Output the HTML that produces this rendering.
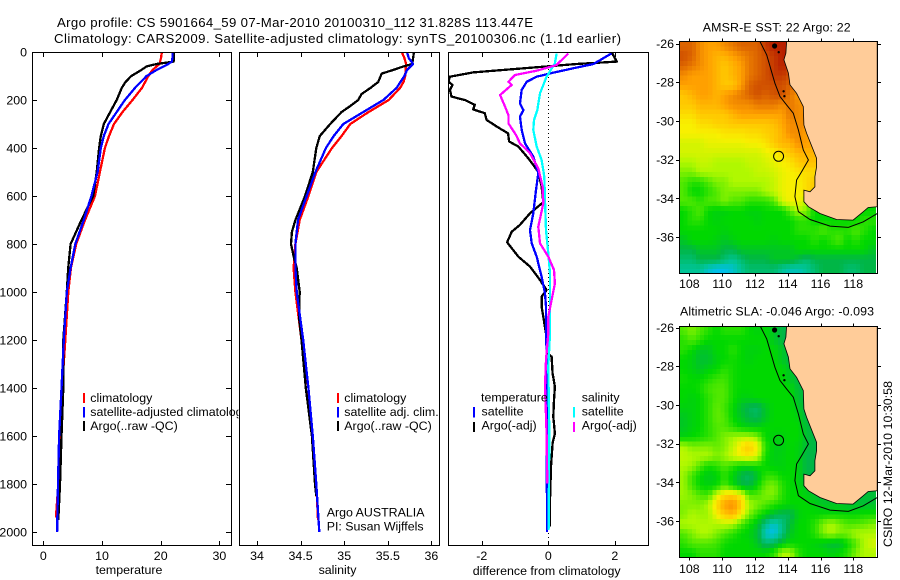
<!DOCTYPE html>
<html lang="en">
<head>
<meta charset="utf-8">
<title>Argo profile</title>
<style>
html,body{margin:0;padding:0;background:#fff;}
svg{display:block;font-family:"Liberation Sans",sans-serif;font-size:12.4px;fill:#000;}
.line{fill:none;stroke-width:2.3;shape-rendering:crispEdges;stroke-linejoin:round;}
.frame{fill:none;stroke:#000;stroke-width:1;shape-rendering:crispEdges;}
.tick{stroke:#000;stroke-width:1;shape-rendering:crispEdges;}
</style>
</head>
<body>
<svg id="chart" xmlns="http://www.w3.org/2000/svg" width="900" height="580" viewBox="0 0 900 580">
  <defs>
    <clipPath id="clip-temp"><rect x="33" y="53" width="198" height="492"/></clipPath>
    <clipPath id="clip-sal"><rect x="240" y="53" width="199" height="492"/></clipPath>
    <clipPath id="clip-diff"><rect x="449" y="53" width="199" height="492"/></clipPath>
    <clipPath id="clip-map1"><rect x="680" y="42" width="197" height="231"/></clipPath>
    <clipPath id="clip-map2"><rect x="680" y="327" width="197" height="230"/></clipPath>
    <clipPath id="clip-cells1"><rect x="680" y="42" width="196" height="231"/></clipPath>
    <clipPath id="clip-cells2"><rect x="680" y="327" width="196" height="230"/></clipPath>
  </defs>
  <rect width="900" height="580" fill="#fff"/>
  <text x="57" y="27" font-size="13.2" textLength="476" lengthAdjust="spacing">Argo profile: CS 5901664_59 07-Mar-2010 20100310_112 31.828S 113.447E</text>
  <text x="54" y="43" font-size="13.2" textLength="567" lengthAdjust="spacing">Climatology: CARS2009. Satellite-adjusted climatology: synTS_20100306.nc (1.1d earlier)</text>

  <g id="temp-panel"></g>
  <g>
    <rect x="83" y="393" width="2" height="10" fill="#f00"/>
    <rect x="83" y="407" width="2" height="10.5" fill="#00f"/>
    <rect x="83" y="421" width="2" height="10" fill="#000"/>
    <text x="90.3" y="402">climatology</text>
    <text x="90.3" y="416">satellite-adjusted climatology</text>
    <text x="90.3" y="430">Argo(..raw -QC)</text>
  </g>

  <rect x="238.5" y="50" width="205" height="497" fill="#fff"/>
  <g id="sal-panel"></g>
  <g>
    <rect x="337" y="393" width="2" height="10" fill="#f00"/>
    <rect x="337" y="407" width="2" height="10.5" fill="#00f"/>
    <rect x="337" y="421" width="2" height="10" fill="#000"/>
    <text x="344.3" y="402">climatology</text>
    <text x="344.3" y="416">satellite adj. clim.</text>
    <text x="344.3" y="430">Argo(..raw -QC)</text>
    <text x="326.7" y="516.7">Argo AUSTRALIA</text>
    <text x="326.7" y="530.7">PI: Susan Wijffels</text>
  </g>

  <g id="diff-panel"></g>
  <g>
    <text x="481" y="401.7">temperature</text>
    <rect x="473" y="407" width="2" height="10.5" fill="#00f"/>
    <text x="481.5" y="415.7">satellite</text>
    <rect x="473" y="422" width="2" height="10" fill="#000"/>
    <text x="481.5" y="429.7">Argo(-adj)</text>
    <text x="581.7" y="401.7">salinity</text>
    <rect x="573" y="407" width="2" height="10.5" fill="#0ff"/>
    <text x="581.7" y="415.7">satellite</text>
    <rect x="573" y="422" width="2" height="10" fill="#f0f"/>
    <text x="581.7" y="429.7">Argo(-adj)</text>
  </g>

  <g id="map1"></g>
  <g id="map2"></g>
  <text x="702.7" y="31.7" textLength="148" lengthAdjust="spacing">AMSR-E SST: 22 Argo: 22</text>
  <text x="680" y="315.7" textLength="194" lengthAdjust="spacing">Altimetric SLA: -0.046 Argo: -0.093</text>
  <text transform="translate(892,547) rotate(-90)" textLength="166" lengthAdjust="spacing">CSIRO 12-Mar-2010 10:30:58</text>
</svg>
<script>
// ---- profile data ----
const depthTicks = [0,200,400,600,800,1000,1200,1400,1600,1800,2000];
const tempTicks = [0,10,20,30];
const salTicks = [34,34.5,35,35.5,36];
const salTickLabels = ['34','34.5','35','35.5','36'];
const diffTicks = [-2,0,2];

const climTempDepth = [0,25,50,75,100,150,200,250,300,350,400,500,600,700,800,900,1000,1200,1400,1600,1800,1940];
const climTempValue = [20.2,20.05,19.8,18.6,17.9,16.8,15.2,13.5,12.05,11.2,10.5,9.65,8.8,7.1,5.6,4.7,4.26,3.75,3.2,2.85,2.55,2.15];
const satTempDepth = [0,25,40,50,75,100,150,200,250,300,350,400,500,600,700,800,900,1000,1200,1400,1600,1800,2000];
const satTempValue = [22,22,21.9,21.3,19.3,17.6,15.6,13.9,12.5,11.1,10.3,9.8,9.25,8.2,6.9,5.45,4.65,4,3.5,3.1,2.7,2.5,2.35];
const argoTempDepth = [0,25,40,50,60,75,100,125,150,200,250,300,350,400,500,600,700,800,900,1000,1200,1400,1600,1800,1950];
const argoTempValue = [22.2,22.2,22.2,19.3,17.6,16.7,15,14,13.35,12.5,11.4,10.3,9.8,9.5,9.1,8.5,6.5,4.65,4.25,4,3.4,3.4,3.1,2.85,2.55];

const climSalDepth = [0,25,50,100,125,150,200,250,300,350,400,500,600,700,800,900,1000,1200,1400,1600,1800,1950];
const climSalValue = [35.66,35.69,35.71,35.7,35.68,35.64,35.51,35.28,35.07,34.97,34.86,34.68,34.59,34.49,34.44,34.42,34.44,34.51,34.59,34.63,34.68,34.7];
const satSalDepth = [0,25,50,75,100,150,200,250,300,350,400,500,600,700,800,900,1000,1200,1400,1600,1800,2000];
const satSalValue = [35.72,35.74,35.79,35.72,35.69,35.6,35.45,35.22,34.99,34.88,34.79,34.67,34.57,34.47,34.44,34.44,34.455,34.53,34.59,34.64,34.68,34.715];
const argoSalDepth = [0,25,50,60,75,90,125,150,175,200,225,250,300,350,400,500,600,700,750,800,850,900,1000,1100,1200,1400,1600,1800,1850];
const argoSalValue = [35.8,35.79,35.78,35.68,35.56,35.43,35.39,35.3,35.2,35.16,35.07,34.97,34.84,34.72,34.68,34.64,34.55,34.44,34.4,34.39,34.42,34.455,34.49,34.48,34.51,34.56,34.63,34.665,34.68];

const argoTempDiffDepth = [0,40,50,85,103,124,137,158,186,200,220,239,255,283,314,339,373,394,443,499,560,626,672,720,749,793,853,894,950,992,1019,1061,1172,1256,1269,1339,1394,1450,1519,1589,1630,1728,1867,1978];
const argoTempDiffValue = [1.9,2.06,0.85,-2.26,-2.96,-3,-2.88,-2.96,-2.91,-2.51,-2.21,-2.26,-1.91,-1.86,-1.51,-1.21,-1.18,-0.9,-0.6,-0.3,-0.2,-0.15,-0.55,-0.85,-1.1,-1.24,-0.9,-0.55,-0.25,-0.05,-0.2,-0.2,-0.07,-0.03,0.1,0.13,0.2,0.17,0.15,0.2,0.13,0.08,0.05,0.05];
const satTempDiffDepth = [6,50,68,89,103,124,158,214,242,269,325,381,436,506,575,672,742,797,853,936,1006,1061,1300,2000];
const satTempDiffValue = [1.9,1.36,0.75,0.05,-0.35,-0.65,-0.8,-0.85,-0.75,-0.85,-0.8,-0.7,-0.45,-0.3,-0.37,-0.45,-0.55,-0.5,-0.35,-0.2,-0.1,-0.07,-0.05,-0.04];
const satSalDiffDepth = [6,47,103,172,242,283,325,394,450,519,617,742,839,922,1061,1172,1311,1589,1992];
const satSalDiffValue = [0.25,0.2,-0.05,-0.25,-0.33,-0.43,-0.45,-0.35,-0.2,-0.12,-0.1,-0.07,0,0.05,0.05,0.05,0,0.03,0.01];
const argoSalDiffDepth = [6,54,78,96,124,137,179,228,263,297,346,381,422,485,561,631,728,797,853,908,964,1033,1103,1172,1283,1394,1589,1797];
const argoSalDiffValue = [0.6,0.25,-0.35,-1,-1.2,-1.1,-1.45,-1.3,-1.2,-1.2,-0.97,-0.85,-0.55,-0.3,-0.17,-0.15,-0.3,-0.25,0,0.17,0.2,0.1,0,0,-0.07,-0.1,-0.05,-0.03];

// ---- map data (colour level per half-degree sample, north to south) ----
const lonTicks = [108,110,112,114,116,118];
const latTicks = [26,28,30,32,34,36];
const sstGrid = [
[9.5,9.5,8.5,8,8,8.5,9,9.5,9.5,9.5,10.5,11,11],
[10,9.5,8.5,8,7.5,7.5,8,8.5,9,9.5,10,10.5,11,11],
[9.5,9,8.5,8,7.5,7,7.5,8,9,9.5,10,10.5,11,10.5],
[8.5,8,8,8,7.5,7,7.5,8,9,9.5,10,10.5,10.5,10],
[8,8,8,8,7.5,7,7,8,9.5,10,10,10,10,9.5],
[7,7.5,8,8,7.5,8,8.5,9,9.5,10,9.5,10,10,9,8],
[7,7,7.5,7.5,7.5,8,8.5,8.5,8.5,9,9,9,8.5,9,8.5],
[6.5,6.5,7,7,7,7,7.5,8,8,8,8,8,8,9,8.5],
[6,6,6.5,6.5,6.8,6.8,7,7,7,7,7,7.2,7.8,8.5,8.5],
[6,6,6,6,6,6.3,6.3,6.3,6.5,6.5,6.8,7,7.5,8.5,8.5,8],
[5.5,5.5,5.5,5.8,5.8,5.8,5.8,5.8,6,6,6.3,7,7.5,7.5,8.5,8],
[5.5,5.5,5.5,5.5,5.5,5.5,5.5,5.5,5.5,5.5,5.8,6,6.5,7,7.5,7.5],
[5,5,5.3,5.3,5,5,5,5,5.3,5.3,5.5,5.8,6,6.3,7,7.2,7.2],
[4.5,4.5,5,5,5,5,5,5,5,5.3,5.3,5.5,5.8,6,6.3,6.5,6.5],
[4,3.5,3.5,4,4.5,4.5,5,5,5,5,5,5.3,5.8,6,6,6.5,7],
[4,3,3,3.5,4,4.5,4.5,4.5,4.5,4.5,5,5.3,5.8,6,6,6.5,7],
[4,4,3.5,4,4,4.5,4,4,3.5,3.5,3.5,4,5.5,6,6,5,3],
[3,3.5,4,3,2.8,2.8,3,3,2.8,2.8,3,3,3,4,5,4.5,3,3,3,3,3,3,3,3],
[3,3.5,3.5,3,2.8,3,3,3,3,2.8,3,3,3,3,3.5,3.5,3,3,3,3,3,3,3.5,3.5],
[3,3,3,3,3,2.8,3,3,3,3,3,3,3,3,3.5,3.5,3.5,4,3.5,3.5,3.5,4,3.5,3],
[2.5,3,3,3,2.8,2.5,2.8,3,3,3,3,2.8,3,3,3,3,3.5,3,3.5,4,3,3.5,3,3],
[2,2,2.5,2.5,2.5,2,2,2.5,2.5,2.5,2.5,2.5,2.5,2.5,3,3,3,3,3,3,3,3,3,2.5],
[1.5,1.5,2,2,2,1.5,1,1.5,2,2,2,2.5,2.5,2.5,2,1.5,2,2,2,2,2,2,2,2],
[1,1,1,0.5,0.2,0.2,0.5,1,1.5,1.5,1.5,1.5,1,0.7,0.7,1,1.5,2,2,2,1.5,1.5,2,2]
];
const slaGrid = [
[4,4.5,4,3.5,3,3.5,3.5,3.5,3,2.8,3,2.5,2,2],
[3.5,4,3.5,3,3,3,3,3,3,3,3,2.5,2,2],
[3.5,3,2.5,2.5,3,3,3.5,3,2.8,2.8,3,3,2.5,2,2],
[3,2.8,2.3,2.3,2.8,3,3.2,3,2.8,3,3,3,2.5,2],
[3,2.8,2.5,2.8,3,3.5,3.2,3,3,3,3,3,3,2.5,2],
[3.2,3,3,3.3,3.7,3.8,3.2,3,3,3,3,3,3,2.5,2],
[3,3,3.2,3.8,4,4,3.2,3,3,3,3,3,3,3,2.2,2],
[3,2.8,3,3.5,4,4,3.2,2.8,2.8,3,3,3,3,3,2.3,2],
[2.8,2.8,3,3.5,4.2,3.8,3,2.3,1.8,1.6,2.5,3,3,3,2.5,2],
[2.5,2.8,3,3.5,4.2,4,3,2.5,2,1.8,2.5,3,3,3,2.8,2],
[2.5,2.8,3,3.5,4,4,3.5,3,2.8,2.8,3,3,3,3,3,2.2,2],
[2.8,3,3.2,3.5,4,4.5,4.8,5,5,4.5,3,2.8,2.8,3,3,2.3,2,2],
[5,4.5,4.5,4.5,4.2,4.5,5.2,6.3,7,6,3.5,2.7,2.7,3,2.8,2.2,2,2],
[5.2,5,5,5,4.5,4.8,5.5,6,6.3,5.5,3.2,2.7,2.8,3,2.8,2,2,2],
[5,4.8,4,3.2,3.5,4,3.5,3,3,3.2,3,2.8,2.8,3,2.8,2,2,2],
[4.8,3.8,3,2.6,2.8,3.5,2.8,2,1.6,2.4,3.5,3.5,3,3,2.8,2,2],
[4.8,3.8,3,2.8,3,4,3,2.2,2,3,4.2,4.5,3.5,3,2.8,2.4,2.2],
[4.8,4.5,4,3.8,5.5,6.5,6.8,6,4,4,4.5,4.5,3.5,3,3,2.8,2.3,2.2,2.2,2.2,2.2,2.2,2.2,2.2],
[4.5,4.5,4.5,5,6.5,8,8.5,7,5,4.5,4,3.5,3.2,3,3,3,2.8,2.5,2.5,2.5,2.3,2.3,2.3,2.3],
[4.5,5,4.8,4.8,6,7,7.5,6,4.5,3.5,2.8,2.2,1.8,1.8,2.8,3,3,3,3,3,3,3,3.2,3.2],
[5,5,5,5,5,5.2,5,4,3.2,2.5,1.2,0.5,1.2,2.2,3,3,3.5,4.5,5,4.5,4,4,4.2,4.5],
[4,4.5,5,5,4.5,4,3.5,3,2.8,2.2,0.5,0.2,1.2,2.5,3,3,3.5,4.5,5,4.5,4.5,5,5,5],
[3.5,4,4,4,3.8,3.2,3,3,3,2.5,1.5,1.8,2.5,3,3,3,2.8,2.5,2.2,2.2,3,4,5,5.5],
[3,3,3.5,3.5,3.5,3,3,3,3,3,3,3.5,5,5,3.5,3,3,3,2.8,3,3.5,4.5,5,5]
];
const coastLon = [113.93,113.89,113.77,114.04,114.14,114.54,114.95,114.99,115.15,115.76,115.76,115.66,115.66,115.36,114.99,114.99,115.26,115.97,116.98,117.99,118.61,118.91,119.46,119.46];
const coastLat = [25.9,26.5,26.84,27.53,28.14,28.57,29.26,30.21,30.64,31.93,32.36,32.88,33.4,33.66,33.57,34.17,34.43,34.78,35.09,35.12,34.69,34.47,34.43,25.9];
const contourLon = [112.31,112.72,113.22,113.53,113.93,114.34,114.65,114.95,115.26,114.85,114.54,114.44,114.65,115.36,116.58,117.7,118.61,119.46];
const contourLat = [25.9,26.59,28.05,28.74,29.17,29.6,30.47,31.5,32.02,32.62,33.05,33.91,34.69,35.09,35.43,35.5,35.21,34.78];
const islandLon = [113.2,113.45,113.75,113.8];
const islandLat = [26.13,26.45,28.47,28.72];
const floatLon = 113.447;
const floatLat = 31.828;

// ---- axis functions ----
const NS = 'http://www.w3.org/2000/svg';
const yDepth = d => 52 + 0.24 * d;
const xTemp = t => 43.3 + 5.87 * t;
const xSal = s => 257 + 87.2 * (s - 34);
const xDiff = v => 548.3 + 33.25 * v;
const xLon = lon => 689.3 + 16.4 * (lon - 108);

function make(parent, tag) {
  const el = document.createElementNS(NS, tag);
  parent.appendChild(el);
  return el;
}
function tick(parent, x1, y1, x2, y2) {
  const t = make(parent, 'line');
  t.setAttribute('class', 'tick');
  t.setAttribute('x1', x1);
  t.setAttribute('y1', y1);
  t.setAttribute('x2', x2);
  t.setAttribute('y2', y2);
  
  
}
function label(parent, str, x, y, anchor) {
  const t = make(parent, 'text');
  t.textContent = str;
  t.setAttribute('x', x);
  t.setAttribute('y', y);
  t.setAttribute('text-anchor', anchor);
  
  
}
function series(parent, seriesName, clip, color, depths, values, xFn) {
  const p = make(parent, 'polyline');
  p.setAttribute('class', 'line');
  p.setAttribute('stroke', color);
  p.setAttribute('clip-path', 'url(#' + clip + ')');
  p.setAttribute('points', depths.map((d, i) => xFn(values[i]).toFixed(1) + ',' + yDepth(d).toFixed(1)).join(' '));
  
  
}
function panel(parent, left, right, ticks, labels, xFn, axisTitle, titleX, titleY, labelY) {
  const f = make(parent, 'rect');
  f.setAttribute('class', 'frame');
  f.setAttribute('x', left);
  f.setAttribute('y', 52.5);
  f.setAttribute('width', right - left);
  f.setAttribute('height', 493);
  
  
  ticks.forEach((v, i) => {
    const x = Math.round(xFn(v)) + 0.5;
    tick(parent, x, 52, x, 57);
    tick(parent, x, 541, x, 546);
    label(parent, labels[i], xFn(v), labelY, 'middle');
  });
  const t = make(parent, 'text');
  t.textContent = axisTitle;
  t.setAttribute('x', titleX);
  t.setAttribute('y', titleY);
  t.setAttribute('text-anchor', 'middle');
  
  
}

// ---- temperature panel ----
const gT = document.getElementById('temp-panel');
panel(gT, 32.5, 231.5, tempTicks, tempTicks.map(String), xTemp, 'temperature', 129, 574, 560);
depthTicks.forEach(d => {
  const y = Math.round(yDepth(d)) + 0.5;
  tick(gT, 32, y, 37, y);
  tick(gT, 226, y, 231, y);
  label(gT, String(d), 27, yDepth(d) + 4.5, 'end');
});
series(gT, 'series-temp-climatology', 'clip-temp', '#f00', climTempDepth, climTempValue, xTemp);
series(gT, 'series-temp-argo', 'clip-temp', '#000', argoTempDepth, argoTempValue, xTemp);
series(gT, 'series-temp-satellite', 'clip-temp', '#00f', satTempDepth, satTempValue, xTemp);

// ---- salinity panel ----
const gS = document.getElementById('sal-panel');
panel(gS, 239.5, 439.5, salTicks, salTickLabels, xSal, 'salinity', 337.5, 574, 560);
series(gS, 'series-sal-climatology', 'clip-sal', '#f00', climSalDepth, climSalValue, xSal);
series(gS, 'series-sal-argo', 'clip-sal', '#000', argoSalDepth, argoSalValue, xSal);
series(gS, 'series-sal-satellite', 'clip-sal', '#00f', satSalDepth, satSalValue, xSal);

// ---- difference panel ----
const gD = document.getElementById('diff-panel');
panel(gD, 448.5, 648.5, diffTicks, diffTicks.map(String), xDiff, 'difference from climatology', 546.7, 575, 560);
const zeroLine = make(gD, 'line');
zeroLine.setAttribute('x1', 548.5);
zeroLine.setAttribute('x2', 548.5);
zeroLine.setAttribute('y1', 53);
zeroLine.setAttribute('y2', 545);
zeroLine.setAttribute('stroke', '#000');
zeroLine.setAttribute('stroke-dasharray', '1 3');


series(gD, 'series-diff-temp-argo', 'clip-diff', '#000', argoTempDiffDepth, argoTempDiffValue, xDiff);
series(gD, 'series-diff-temp-satellite', 'clip-diff', '#00f', satTempDiffDepth, satTempDiffValue, xDiff);
series(gD, 'series-diff-sal-satellite', 'clip-diff', '#0ff', satSalDiffDepth, satSalDiffValue, xDiff);
series(gD, 'series-diff-sal-argo', 'clip-diff', '#f0f', argoSalDiffDepth, argoSalDiffValue, xDiff);

// ---- colour scale ----
const levelColors = [[0,190,255],[0,196,150],[0,182,70],[0,216,0],[80,232,0],[176,248,0],[248,240,0],[255,200,0],[255,160,0],[232,120,0],[208,80,0],[184,32,0]];
function levelColor(v) {
  const a = Math.max(0, Math.min(11, v));
  const i = Math.min(10, Math.floor(a));
  const f = a - i;
  const c = levelColors[i].map((k, n) => Math.round(k + (levelColors[i + 1][n] - k) * f));
  return 'rgb(' + c.join(',') + ')';
}
// Quarter-degree display cells resampled from the half-degree grid
function gridValue(grid, r, c) {
  const row = grid[Math.max(0, Math.min(grid.length - 1, r))];
  const k = Math.max(0, c);
  return k < row.length ? row[k] : row[row.length - 1];
}
function displayValue(grid, r4, c4) {
  const u = (r4 + 0.5) / 2 - 0.5;
  const v = (c4 + 0.5) / 2 - 0.5;
  const r0 = Math.floor(u);
  const c0 = Math.floor(v);
  const fu = u - r0;
  const fv = v - c0;
  return (1 - fu) * ((1 - fv) * gridValue(grid, r0, c0) + fv * gridValue(grid, r0, c0 + 1)) +
         fu * ((1 - fv) * gridValue(grid, r0 + 1, c0) + fv * gridValue(grid, r0 + 1, c0 + 1));
}

// ---- maps ----
function drawMap(gId, grid, clip, cellClip, top, bottom, y26, labelY, circleName) {
  const g = document.getElementById(gId);
  const yLat = lat => y26 + 19.36 * (lat - 26);
  const cells = make(g, 'g');
  cells.setAttribute('clip-path', 'url(#' + cellClip + ')');
  cells.setAttribute('shape-rendering', 'crispEdges');
  
  
  for (let r = 0; r < grid.length * 2; r++) {
    for (let c = 0; c < 48; c++) {
      const cell = make(cells, 'rect');
      const lon0 = 107.4 + 0.25 * c;
      const lat0 = 25.9 + 0.25 * r;
      cell.setAttribute('x', xLon(lon0).toFixed(1));
      cell.setAttribute('y', yLat(lat0).toFixed(1));
      cell.setAttribute('width', (xLon(lon0 + 0.25) - xLon(lon0) + 0.6).toFixed(1));
      cell.setAttribute('height', (yLat(lat0 + 0.25) - yLat(lat0) + 0.6).toFixed(1));
      cell.setAttribute('fill', levelColor(displayValue(grid, r, c)));
      
      
    }
  }
  const land = make(g, 'polygon');
  land.setAttribute('points', coastLon.map((lon, i) => xLon(lon).toFixed(1) + ',' + yLat(coastLat[i]).toFixed(1)).join(' '));
  land.setAttribute('fill', '#ffcc99');
  land.setAttribute('stroke', '#000');
  land.setAttribute('stroke-width', '0.8');
  land.setAttribute('clip-path', 'url(#' + clip + ')');
  
  
  const contour = make(g, 'polyline');
  contour.setAttribute('points', contourLon.map((lon, i) => xLon(lon).toFixed(1) + ',' + yLat(contourLat[i]).toFixed(1)).join(' '));
  contour.setAttribute('fill', 'none');
  contour.setAttribute('stroke', '#000');
  contour.setAttribute('stroke-width', '1');
  contour.setAttribute('clip-path', 'url(#' + clip + ')');
  
  
  islandLon.forEach((lon, i) => {
    const isl = make(g, 'circle');
    isl.setAttribute('cx', xLon(lon).toFixed(1));
    isl.setAttribute('cy', yLat(islandLat[i]).toFixed(1));
    isl.setAttribute('r', i === 0 ? 2.6 : 1.2);
    isl.setAttribute('fill', '#000');
    
    
  });
  const marker = make(g, 'circle');
  marker.setAttribute('cx', xLon(floatLon).toFixed(1));
  marker.setAttribute('cy', yLat(floatLat).toFixed(1));
  marker.setAttribute('r', 5);
  marker.setAttribute('fill', 'none');
  marker.setAttribute('stroke', '#000');
  
  
  const frame = make(g, 'rect');
  frame.setAttribute('class', 'frame');
  frame.setAttribute('x', 679.5);
  frame.setAttribute('y', top);
  frame.setAttribute('width', 198);
  frame.setAttribute('height', bottom - top);
  
  
  lonTicks.forEach(lon => {
    const x = Math.round(xLon(lon)) + 0.5;
    tick(g, x, top - 3, x, top);
    tick(g, x, bottom, x, bottom + 3);
    label(g, String(lon), xLon(lon), labelY, 'middle');
  });
  latTicks.forEach(lat => {
    const y = Math.round(yLat(lat)) + 0.5;
    tick(g, 676, y, 679, y);
    tick(g, 878, y, 881, y);
    label(g, '-' + lat, 674, yLat(lat) + 4.5, 'end');
  });
}
drawMap('map1', sstGrid, 'clip-map1', 'clip-cells1', 41.5, 273.5, 43.5, 288, 'sst-float-position');
drawMap('map2', slaGrid, 'clip-map2', 'clip-cells2', 326.5, 557.5, 327.5, 573, 'sla-float-position');
</script>
</body>
</html>
